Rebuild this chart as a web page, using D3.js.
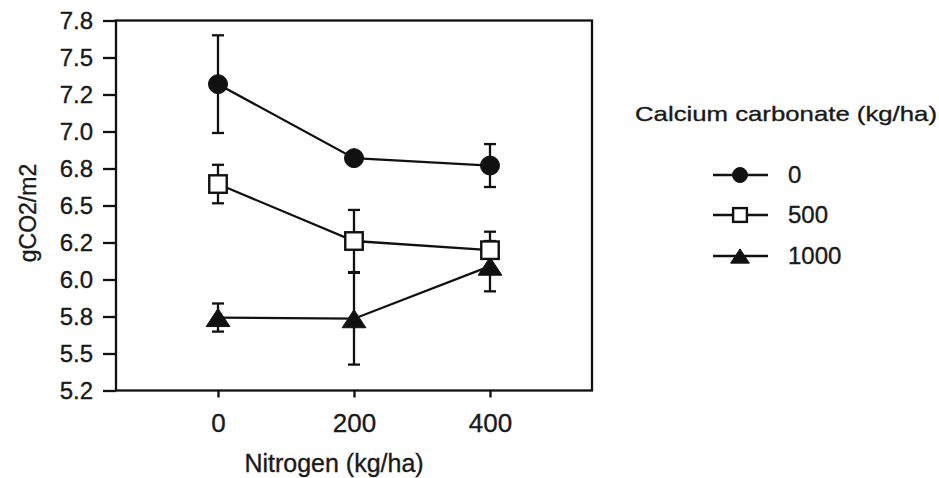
<!DOCTYPE html>
<html>
<head>
<meta charset="utf-8">
<script src="https://cdn.jsdelivr.net/npm/d3@7"></script>
<style>
  html, body { margin: 0; padding: 0; background: #fff; }
  svg { display: block; }
  text { font-family: "Liberation Sans", Arial, Helvetica, sans-serif; fill: #1a1a1a; stroke: #1a1a1a; stroke-width: 0.35px; }
</style>
</head>
<body>
<svg id="chart" width="939" height="478"></svg>
<script>
// ---- data ----
const nitrogen = [0, 200, 400];
const seriesNames = ["0", "500", "1000"];
const seriesShapes = ["circle", "square", "triangle"];
const values0 = [7.32, 6.82, 6.77];
const errors0 = [0.33, 0.02, 0.145];
const values500 = [6.645, 6.26, 6.198];
const errors500 = [0.13, 0.21, 0.125];
const values1000 = [5.743, 5.735, 6.09];
const errors1000 = [0.095, 0.31, 0.17];
const yTickValues = [5.25, 5.5, 5.75, 6.0, 6.25, 6.5, 6.75, 7.0, 7.25, 7.5, 7.75];
const yTickLabels = ["5.2", "5.5", "5.8", "6.0", "6.2", "6.5", "6.8", "7.0", "7.2", "7.5", "7.8"];
const xTickValues = [0, 200, 400];
const xTickLabels = ["0", "200", "400"];
const xTitle = "Nitrogen (kg/ha)";
const yTitle = "gCO2/m2";
const legendTitle = "Calcium carbonate (kg/ha)";

const series = [
  { name: seriesNames[0], shape: seriesShapes[0], values: values0, errors: errors0 },
  { name: seriesNames[1], shape: seriesShapes[1], values: values500, errors: errors500 },
  { name: seriesNames[2], shape: seriesShapes[2], values: values1000, errors: errors1000 }
];

// ---- layout ----
const svg = d3.select("#chart");
const pLeft = 116, pRight = 592, pTop = 20.5, pBottom = 390.5;
const x = d3.scaleLinear().domain([-150, 550]).range([pLeft, pRight]);
const y = d3.scaleLinear().domain([5.25, 7.75]).range([pBottom, pTop]);
const ink = "#111";
const lw = 2.3;

// frame
svg.append("rect")
  .attr("x", pLeft).attr("y", pTop)
  .attr("width", pRight - pLeft).attr("height", pBottom - pTop)
  .attr("fill", "none").attr("stroke", ink).attr("stroke-width", lw);

// y axis
const yAxis = svg.append("g").attr("transform", `translate(${pLeft},0)`)
  .call(d3.axisLeft(y).tickValues(yTickValues)
    .tickFormat((d, i) => yTickLabels[i]).tickSize(13).tickPadding(10));
yAxis.select(".domain").remove();
yAxis.selectAll(".tick line").attr("stroke", ink).attr("stroke-width", lw);
yAxis.selectAll(".tick text")
  .attr("font-size", 24).attr("fill", "#1a1a1a")
  .style("font-family", '"Liberation Sans", Arial, sans-serif');

// x axis
const xAxis = svg.append("g").attr("transform", `translate(0,${pBottom})`)
  .call(d3.axisBottom(x).tickValues(xTickValues)
    .tickFormat((d, i) => xTickLabels[i]).tickSize(7).tickPadding(16));
xAxis.select(".domain").remove();
xAxis.selectAll(".tick line").attr("stroke", ink).attr("stroke-width", lw);
xAxis.selectAll(".tick text")
  .attr("font-size", 26).attr("fill", "#1a1a1a")
  .style("font-family", '"Liberation Sans", Arial, sans-serif');

// axis titles
svg.append("text")
  .attr("x", 334).attr("y", 472)
  .attr("text-anchor", "middle").attr("font-size", 25)
  .text(xTitle);

svg.append("text")
  .attr("transform", `translate(36,213) rotate(-90)`)
  .attr("text-anchor", "middle").attr("font-size", 23)
  .text(yTitle);

// markers
function drawMarker(g, shape, cx, cy, size) {
  if (shape === "circle") {
    g.append("circle").attr("cx", cx).attr("cy", cy).attr("r", size * 0.5)
      .attr("fill", ink).attr("stroke", ink).attr("stroke-width", 1);
  } else if (shape === "square") {
    const s = size * 0.92;
    g.append("rect").attr("x", cx - s / 2).attr("y", cy - s / 2)
      .attr("width", s).attr("height", s)
      .attr("fill", "#fff").attr("stroke", ink).attr("stroke-width", 2.4);
  } else {
    const w = size * 1.25, h = size * 0.95;
    g.append("path")
      .attr("d", `M${cx - w / 2},${cy + h / 2} L${cx + w / 2},${cy + h / 2} L${cx},${cy - h / 2} Z`)
      .attr("fill", ink).attr("stroke", ink).attr("stroke-width", 1);
  }
}

const line = d3.line().x((d, i) => x(nitrogen[i])).y(d => y(d));
const plot = svg.append("g");

// draw order: triangles first, squares, then circles on top
[2, 1, 0].forEach(si => {
  const s = series[si];
  const g = plot.append("g");
  s.values.forEach((v, i) => {
    const cx = x(nitrogen[i]);
    const y1 = y(v + s.errors[i]), y2 = y(v - s.errors[i]);
    g.append("line").attr("x1", cx).attr("x2", cx).attr("y1", y1).attr("y2", y2)
      .attr("stroke", ink).attr("stroke-width", lw);
    [y1, y2].forEach(yy => {
      g.append("line").attr("x1", cx - 6).attr("x2", cx + 6).attr("y1", yy).attr("y2", yy)
        .attr("stroke", ink).attr("stroke-width", lw);
    });
  });
  g.append("path").datum(s.values).attr("d", line)
    .attr("fill", "none").attr("stroke", ink).attr("stroke-width", lw);
  s.values.forEach((v, i) => drawMarker(g, s.shape, x(nitrogen[i]), y(v), 19));
});

// legend
const legend = svg.append("g");
legend.append("text").attr("x", 635).attr("y", 121).attr("font-size", 21)
  .attr("textLength", 302).attr("lengthAdjust", "spacingAndGlyphs")
  .text(legendTitle);
const legendY = [175, 215, 256];
series.forEach((s, i) => {
  const ly = legendY[i];
  legend.append("line").attr("x1", 713).attr("x2", 768).attr("y1", ly).attr("y2", ly)
    .attr("stroke", ink).attr("stroke-width", lw);
  drawMarker(legend, s.shape, 740, ly, 15);
  legend.append("text").attr("x", 788).attr("y", ly + 8).attr("font-size", 24)
    .text(s.name);
});
</script>
</body>
</html>
